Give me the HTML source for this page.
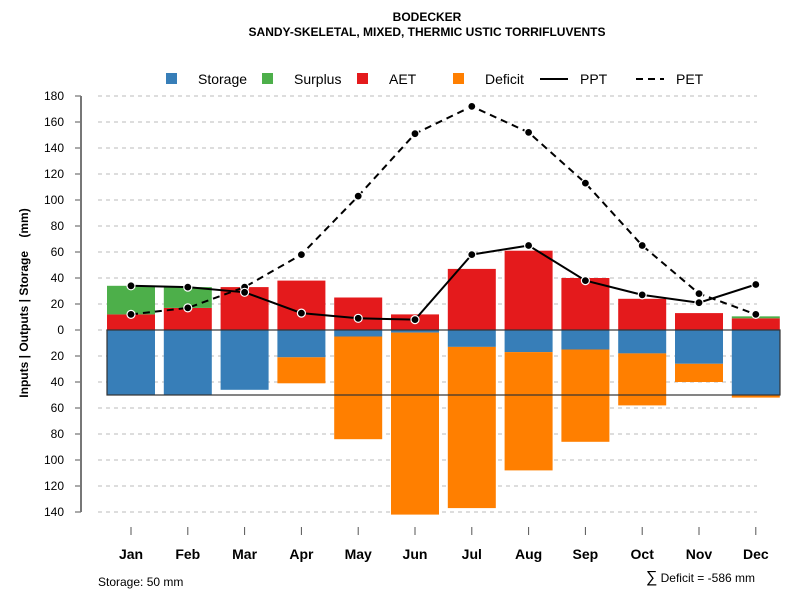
<!DOCTYPE html>
<html><head><meta charset="utf-8"><style>
body{margin:0;background:#fff}
svg{font-family:"Liberation Sans",Arial,sans-serif}
</style></head><body>
<svg id="c" width="800" height="600" viewBox="0 0 800 600" xmlns="http://www.w3.org/2000/svg">
<text x="427" y="21" text-anchor="middle" font-size="12" font-weight="bold">BODECKER</text>
<text x="427" y="36" text-anchor="middle" font-size="12" font-weight="bold">SANDY-SKELETAL, MIXED, THERMIC USTIC TORRIFLUVENTS</text>
<g font-size="14">
<rect x="166" y="73" width="11" height="11" fill="#377eb8"/><text x="198" y="84">Storage</text>
<rect x="262" y="73" width="11" height="11" fill="#4daf4a"/><text x="294" y="84">Surplus</text>
<rect x="357" y="73" width="11" height="11" fill="#e41a1c"/><text x="389" y="84">AET</text>
<rect x="453" y="73" width="11" height="11" fill="#ff7f00"/><text x="485" y="84">Deficit</text>
<line x1="540" y1="79" x2="568" y2="79" stroke="#000" stroke-width="2"/><text x="580" y="84">PPT</text>
<line x1="636" y1="79" x2="664" y2="79" stroke="#000" stroke-width="2" stroke-dasharray="7,5"/><text x="676" y="84">PET</text>
</g>
<text style="white-space:pre" transform="translate(28,303) rotate(-90)" text-anchor="middle" font-size="12" font-weight="bold">Inputs | Outputs | Storage    (mm)</text>
<g id="grid"></g><g id="axes"></g><g id="bars"></g><g id="lines"></g>
<text x="98" y="586" font-size="12">Storage: 50 mm</text>
<text x="755" y="582" text-anchor="end" font-size="12"><tspan font-size="16">∑</tspan> Deficit = -586 mm</text>
</svg>
<script>
const months=["Jan","Feb","Mar","Apr","May","Jun","Jul","Aug","Sep","Oct","Nov","Dec"];
const storage=[50,50,46,21,5,2,13,17,15,18,26,50];
const deficit=[0,0,0,20,79,140,124,91,71,40,14,2];
const aet=[12,17,33,38,25,12,47,61,40,24,13,9];
const surplus=[22,16,0,0,0,0,0,0,0,0,0,1.5];
const ppt=[34,33,29,13,9,8,58,65,38,27,21,35];
const pet=[12,17,33,58,103,151,172,152,113,65,28,12];
const yTicks=[180,160,140,120,100,80,60,40,20,0,-20,-40,-60,-80,-100,-120,-140];
const storageCap=50;
const NS="http://www.w3.org/2000/svg";
const y=v=>330-v*1.3;
const x=i=>131+i*56.8;
const bw=48;
function mk(p,t,a){const e=document.createElementNS(NS,t);for(const k in a)e.setAttribute(k,a[k]);document.getElementById(p).appendChild(e);return e;}
yTicks.forEach(t=>{
 const g=mk("grid","line",{x1:98,x2:757,y1:y(t),y2:y(t),stroke:"#bbb","stroke-dasharray":"4,4"});
 
 
 const tk=mk("axes","line",{x1:75,x2:81,y1:y(t),y2:y(t),stroke:"#555"});
 
 
 const l=mk("axes","text",{x:64,y:y(t)+4,"text-anchor":"end","font-size":12});
 l.textContent=Math.abs(t);
 
 
});
const ax=mk("axes","line",{x1:81,x2:81,y1:y(180),y2:y(-140),stroke:"#777","stroke-width":2});


months.forEach((m,i)=>{
 const tk=mk("axes","line",{x1:x(i),x2:x(i),y1:527,y2:535,stroke:"#555"});
 
 
 const l=mk("axes","text",{x:x(i),y:559,"text-anchor":"middle","font-size":14,"font-weight":"bold"});
 l.textContent=m;
 
 
 const segs=[[0,-storage[i],"#377eb8","bar-storage"],[-storage[i],-storage[i]-deficit[i],"#ff7f00","bar-deficit"],[0,aet[i],"#e41a1c","bar-aet"],[aet[i],aet[i]+surplus[i],"#4daf4a","bar-surplus"]];
 segs.forEach(s=>{if(s[0]===s[1])return;
  const r=mk("bars","rect",{x:x(i)-bw/2,y:Math.min(y(s[0]),y(s[1])),width:bw,height:Math.abs(y(s[0])-y(s[1])),fill:s[2]});
  
  
 });
});
const box=mk("bars","rect",{x:107,y:y(0),width:673,height:y(-storageCap)-y(0),fill:"none",stroke:"#333","stroke-width":1.2});


[[pet,"7,5","pet-line"],[ppt,"","ppt-line"]].forEach(d=>{
 const p=mk("lines","polyline",{points:d[0].map((v,i)=>x(i)+","+y(v)).join(" "),fill:"none",stroke:"#000","stroke-width":2,"stroke-dasharray":d[1]});
 
 
});
[pet,ppt].forEach(s=>s.forEach((v,i)=>{
 const c=mk("lines","circle",{cx:x(i),cy:y(v),r:4,fill:"#000",stroke:"#fff","stroke-width":1.2});
 
 
}));
</script>
</body></html>
